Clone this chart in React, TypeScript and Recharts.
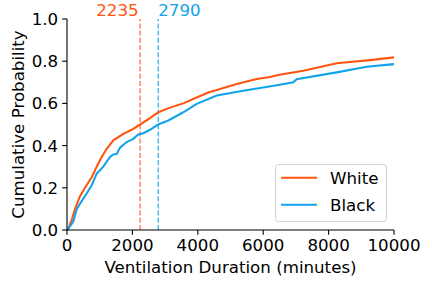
import React from 'react';
import { LineChart, Line, XAxis, YAxis, ReferenceLine, Legend, Label } from 'recharts';

const whiteX = [0, 50, 143, 245, 398, 550, 755, 908, 1061, 1214, 1417, 1723, 1978, 2235, 2538, 2792, 3150, 3557, 4000, 4322, 4557, 5190, 5801, 6208, 6462, 7226, 8248, 9266, 10000];
const whiteP = [0, 0.01, 0.047, 0.1, 0.16, 0.2, 0.25, 0.3, 0.346, 0.385, 0.425, 0.456, 0.475, 0.5, 0.53, 0.558, 0.58, 0.6, 0.63, 0.652, 0.662, 0.692, 0.716, 0.725, 0.735, 0.755, 0.79, 0.805, 0.818];
const blackX = [0, 50, 193, 297, 419, 602, 755, 908, 1110, 1315, 1417, 1519, 1621, 1825, 2028, 2180, 2333, 2540, 2790, 3098, 3557, 3966, 4578, 5391, 5902, 6462, 6921, 7022, 8248, 9165, 10000];
const blackP = [0, 0.008, 0.04, 0.098, 0.13, 0.173, 0.212, 0.267, 0.3, 0.346, 0.358, 0.36, 0.39, 0.417, 0.432, 0.453, 0.459, 0.475, 0.5, 0.519, 0.558, 0.598, 0.637, 0.66, 0.673, 0.687, 0.7, 0.715, 0.747, 0.774, 0.786];
const xTicks = [0, 2000, 4000, 6000, 8000, 10000];
const yTicks = [0, 0.2, 0.4, 0.6, 0.8, 1.0];
const medians = { White: 2235, Black: 2790 };

const ORANGE = '#ff5511';
const BLUE = '#12a3ea';
const FONT = 'DejaVu Sans';
const FS = 16.67;

const whiteData = whiteX.map((x, i) => ({ x, p: whiteP[i] }));
const blackData = blackX.map((x, i) => ({ x, p: blackP[i] }));

const LegendBox = () => (
  <svg width={113} height={59} style={{ display: 'block' }}>
    <rect x={0.5} y={0.5} width={111} height={57} rx={3} fill="#ffffff" fillOpacity={0.8} stroke="#d0d0d0" strokeWidth={1} />
    <line x1={6} x2={42} y1={13.7} y2={13.7} stroke={ORANGE} strokeWidth={2.08} />
    <line x1={6} x2={42} y1={40.7} y2={40.7} stroke={BLUE} strokeWidth={2.08} />
    <text x={55} y={19.6} fontFamily={FONT} fontSize={FS} fill="#000">White</text>
    <text x={55} y={46.6} fontFamily={FONT} fontSize={FS} fill="#000">Black</text>
  </svg>
);

const medLabel = (value: string, color: string, anchor: 'start' | 'end') => (props: any) => {
  const vb = props.viewBox || {};
  const x = anchor === 'end' ? vb.x - 1.5 : vb.x;
  return (
    <text x={x} y={vb.y - 3} textAnchor={anchor} fontFamily={FONT} fontSize={FS} fill={color}>
      {value}
    </text>
  );
};

export default function App() {
  const tickStyle = { fontSize: FS, fill: '#000', fontFamily: FONT };
  return (
    <div style={{ position: 'absolute', left: 0, top: 0, background: '#fff' }}>
      <LineChart width={432} height={288} margin={{ top: 19, right: 38, bottom: 0, left: 0 }}>
        <XAxis
          dataKey="x"
          type="number"
          domain={[0, 10000]}
          ticks={xTicks}
          allowDataOverflow
          tick={tickStyle}
          tickSize={4.86}
          tickMargin={4}
          height={58}
          axisLine={{ stroke: '#000', strokeWidth: 1.1 }}
          tickLine={{ stroke: '#000', strokeWidth: 1.1 }}
        >
          <Label value="Ventilation Duration (minutes)" position="insideBottom" offset={15} style={{ fontSize: FS, fill: '#000', fontFamily: FONT }} />
        </XAxis>
        <YAxis
          dataKey="p"
          type="number"
          domain={[0, 1]}
          ticks={yTicks}
          tickFormatter={(v: number) => v.toFixed(1)}
          tick={tickStyle}
          tickSize={4.86}
          tickMargin={4}
          width={67}
          axisLine={{ stroke: '#000', strokeWidth: 1.1 }}
          tickLine={{ stroke: '#000', strokeWidth: 1.1 }}
        >
          <Label value="Cumulative Probability" angle={-90} position="center" dx={-15.5} style={{ fontSize: FS, fill: '#000', fontFamily: FONT, textAnchor: 'middle' }} />
        </YAxis>
        <ReferenceLine x={medians.White} stroke={ORANGE} strokeWidth={1.1} strokeDasharray="5 2.2" label={medLabel(String(medians.White), ORANGE, 'end')} />
        <ReferenceLine x={medians.Black} stroke={BLUE} strokeWidth={1.1} strokeDasharray="5 2.2" label={medLabel(String(medians.Black), BLUE, 'start')} />
        <Line data={whiteData} dataKey="p" name="White" type="linear" stroke={ORANGE} strokeWidth={2.08} dot={false} isAnimationActive={false} />
        <Line data={blackData} dataKey="p" name="Black" type="linear" stroke={BLUE} strokeWidth={2.08} dot={false} isAnimationActive={false} />
        <Legend
          layout="horizontal"
          verticalAlign="middle"
          align="center"
          content={() => <LegendBox />}
          wrapperStyle={{ position: 'absolute', left: 275, top: 164, width: 113, height: 59 }}
        />
      </LineChart>
    </div>
  );
}
